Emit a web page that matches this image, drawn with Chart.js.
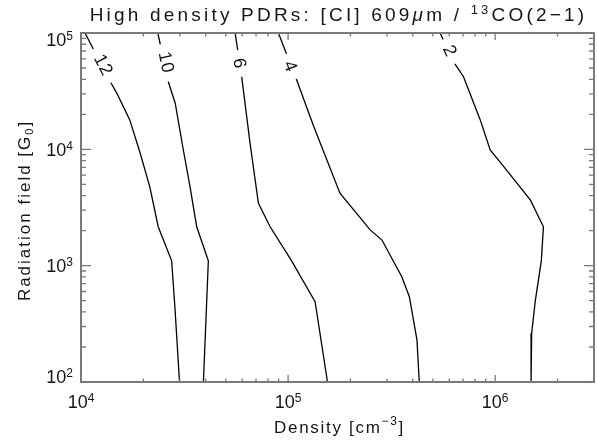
<!DOCTYPE html>
<html>
<head>
<meta charset="utf-8">
<script src="https://cdn.jsdelivr.net/npm/chart.js@4"></script>
<style>
  html, body { margin: 0; padding: 0; background: #fff; }
  canvas { display: block; }
</style>
</head>
<body>
<canvas id="graficoRazao" width="597" height="442"></canvas>
<script>
// niveis do contorno da razao [CI] 609um / 13CO(2-1)
const niveis = [12, 10, 6, 4, 2];

// densidade (cm^-3) e campo de radiacao (G0) ao longo de cada contorno, de cima para baixo
const densidade12 = [1.045e4, 1.39e4, 1.49e4, 1.72e4, 1.93e4, 2.15e4, 2.36e4, 2.74e4, 2.84e4, 2.99e4];
const campo12 = [1e5, 3.77e4, 3.03e4, 1.79e4, 9.3e3, 4.74e3, 2.16e3, 1.1e3, 444, 100];

const densidade10 = [2.35e4, 2.64e4, 2.85e4, 3.12e4, 3.36e4, 3.62e4, 4.12e4, 3.9e4];
const campo10 = [1e5, 3.81e4, 2.49e4, 9.87e3, 4.77e3, 2.16e3, 1.1e3, 100];

const densidade6 = [5.55e4, 5.97e4, 6.55e4, 7.19e4, 8.19e4, 1.04e5, 1.35e5, 1.55e5];
const campo6 = [1e5, 4.2e4, 1.13e4, 3.43e3, 2.16e3, 1.1e3, 490, 100];

const densidade4 = [8.98e4, 1.1e5, 1.33e5, 1.78e5, 2.49e5, 2.84e5, 3.54e5, 3.85e5, 4.19e5, 4.3e5];
const campo4 = [1e5, 3.95e4, 1.57e4, 4.19e3, 2.03e3, 1.66e3, 804, 541, 230, 100];

const densidade2 = [5.42e5, 6.33e5, 7.03e5, 8.47e5, 9.46e5, 1.1e6, 1.48e6, 1.71e6, 1.67e6, 1.56e6, 1.5e6, 1.49e6];
const campo2 = [1e5, 5.56e4, 4.21e4, 1.79e4, 9.87e3, 7.09e3, 3.66e3, 2.16e3, 1.1e3, 490, 262, 100];

// onde fica o numero de cada contorno (mesma ordem de niveis)
const rotuloDensidade = [1.29e4, 2.59e4, 5.86e4, 1.03e5, 6.07e5];
const rotuloCampo = [5.31e4, 5.58e4, 5.47e4, 5.15e4, 7.0e4];

// expoentes das marcas principais (10^n)
const expoentesX = [4, 5, 6];
const expoentesY = [2, 3, 4, 5];

const densidades = [densidade12, densidade10, densidade6, densidade4, densidade2];
const campos = [campo12, campo10, campo6, campo4, campo2];

const FONTE = '"Liberation Sans", Arial, sans-serif';
const COR_TEXTO = "#151515";
const COR_EIXO = "#7a7a7a";

// marcas 1..9 x 10^n dentro do intervalo
function marcasLog(min, max, expoentes) {
  const lista = [];
  for (let e = Math.floor(Math.log10(min)); e <= Math.ceil(Math.log10(max)); e++) {
    for (let k = 1; k <= 9; k++) {
      const v = k * Math.pow(10, e);
      if (v >= min * 0.999 && v <= max * 1.001) {
        lista.push({ value: v, major: k === 1 && expoentes.includes(e) });
      }
    }
  }
  return lista;
}

// escreve pedacos de texto seguidos (expoente, indice, italico)
function escreverPartes(ctx, partes, x, y, alinhar, espaco) {
  ctx.save();
  ctx.letterSpacing = (espaco || 0) + "px";
  ctx.textAlign = "left";
  ctx.textBaseline = "alphabetic";
  ctx.fillStyle = COR_TEXTO;
  let total = 0;
  partes.forEach((p) => {
    ctx.font = p.fonte;
    p.w = ctx.measureText(p.t).width;
    total += p.w;
  });
  let cx = alinhar === "center" ? x - total / 2 : alinhar === "right" ? x - total : x;
  partes.forEach((p) => {
    ctx.font = p.fonte;
    ctx.fillText(p.t, cx, y + (p.dy || 0));
    cx += p.w;
  });
  ctx.restore();
}

const molduraIDL = {
  id: "molduraIDL",
  afterDatasetsDraw(chart) {
    const { ctx, chartArea: a, scales } = chart;
    const x = scales.x;
    const y = scales.y;

    // numeros dos contornos, abrindo um vao na linha
    ctx.save();
    niveis.forEach((nivel, i) => {
      const px = x.getPixelForValue(rotuloDensidade[i]);
      const py = y.getPixelForValue(rotuloCampo[i]);
      const x0 = x.getPixelForValue(densidades[i][0]);
      const y0 = y.getPixelForValue(campos[i][0]);
      const x1 = x.getPixelForValue(densidades[i][1]);
      const y1 = y.getPixelForValue(campos[i][1]);
      const ang = Math.atan2(y1 - y0, x1 - x0);
      ctx.save();
      ctx.translate(px, py);
      ctx.rotate(ang);
      ctx.font = "18px " + FONTE;
      ctx.letterSpacing = "1px";
      const w = ctx.measureText(String(nivel)).width;
      ctx.fillStyle = "#fff";
      ctx.fillRect(-w / 2 - 8, -7, w + 16, 14);
      ctx.fillStyle = COR_TEXTO;
      ctx.textAlign = "center";
      ctx.textBaseline = "middle";
      ctx.fillText(String(nivel), 0, 1);
      ctx.restore();
    });
    ctx.restore();

    // caixa do grafico
    ctx.save();
    ctx.strokeStyle = COR_EIXO;
    ctx.lineWidth = 2;
    ctx.strokeRect(a.left, a.top, a.right - a.left, a.bottom - a.top);

    // marcas para dentro nos quatro lados
    ctx.lineWidth = 1.3;
    ctx.beginPath();
    x.ticks.forEach((t) => {
      const p = x.getPixelForValue(t.value);
      const len = t.major ? 7 : 3.5;
      ctx.moveTo(p, a.bottom);
      ctx.lineTo(p, a.bottom - len);
      ctx.moveTo(p, a.top);
      ctx.lineTo(p, a.top + len);
    });
    y.ticks.forEach((t) => {
      const p = y.getPixelForValue(t.value);
      const len = t.major ? 10 : 5;
      ctx.moveTo(a.left, p);
      ctx.lineTo(a.left + len, p);
      ctx.moveTo(a.right, p);
      ctx.lineTo(a.right - len, p);
    });
    ctx.stroke();
    ctx.restore();

    // rotulos 10^n
    const base = "18px " + FONTE;
    const sup = "12px " + FONTE;
    expoentesX.forEach((e) => {
      const p = x.getPixelForValue(Math.pow(10, e));
      escreverPartes(ctx, [
        { t: "10", fonte: base },
        { t: String(e), fonte: sup, dy: -6 },
      ], p, a.bottom + 26, "center", 0);
    });
    expoentesY.forEach((e) => {
      let p = y.getPixelForValue(Math.pow(10, e));
      p = Math.min(Math.max(p, a.top + 6), a.bottom - 6);
      escreverPartes(ctx, [
        { t: "10", fonte: base },
        { t: String(e), fonte: sup, dy: -6 },
      ], a.left - 8, p + 6.5, "right", 0);
    });

    // titulo
    const meio = (a.left + a.right) / 2;
    escreverPartes(ctx, [
      { t: "High density PDRs: [CI] 609", fonte: "19px " + FONTE },
      { t: "\u03bc", fonte: "italic 19px " + FONTE },
      { t: "m / ", fonte: "19px " + FONTE },
      { t: "13", fonte: "13px " + FONTE, dy: -7 },
      { t: "CO(2\u22121)", fonte: "19px " + FONTE },
    ], meio + 1, 21, "center", 3.2);

    // eixo x
    escreverPartes(ctx, [
      { t: "Density [cm", fonte: "17px " + FONTE },
      { t: "\u22123", fonte: "12px " + FONTE, dy: -8 },
      { t: "]", fonte: "17px " + FONTE },
    ], meio + 2, a.bottom + 51, "center", 1.7);

    // eixo y
    ctx.save();
    ctx.translate(30, (a.top + a.bottom) / 2 + 3);
    ctx.rotate(-Math.PI / 2);
    escreverPartes(ctx, [
      { t: "Radiation field [G", fonte: "17px " + FONTE },
      { t: "0", fonte: "11px " + FONTE, dy: 3 },
      { t: "]", fonte: "17px " + FONTE },
    ], 0, 0, "center", 2);
    ctx.restore();
  },
};

function criarGrafico() {
  const datasets = niveis.map((nivel, i) => ({
    label: String(nivel),
    data: densidades[i].map((d, j) => ({ x: d, y: campos[i][j] })),
    borderColor: "#000",
    borderWidth: 1.3,
    pointRadius: 0,
    tension: 0,
    fill: false,
  }));

  new Chart(document.getElementById("graficoRazao"), {
    type: "line",
    data: { datasets },
    options: {
      responsive: false,
      animation: false,
      devicePixelRatio: 1,
      layout: { padding: { left: 81, right: 3, top: 33, bottom: 60 } },
      plugins: { legend: { display: false }, tooltip: { enabled: false } },
      scales: {
        x: {
          type: "logarithmic",
          min: 1e4,
          max: 3e6,
          grid: { display: false, drawTicks: false },
          border: { display: false },
          ticks: { display: false },
          afterBuildTicks: (s) => { s.ticks = marcasLog(s.min, s.max, expoentesX); },
          afterFit: (s) => { s.height = 0; },
        },
        y: {
          type: "logarithmic",
          min: 1e2,
          max: 1e5,
          grid: { display: false, drawTicks: false },
          border: { display: false },
          ticks: { display: false },
          afterBuildTicks: (s) => { s.ticks = marcasLog(s.min, s.max, expoentesY); },
          afterFit: (s) => { s.width = 0; },
        },
      },
    },
    plugins: [molduraIDL],
  });
}

criarGrafico();
</script>
</body>
</html>
